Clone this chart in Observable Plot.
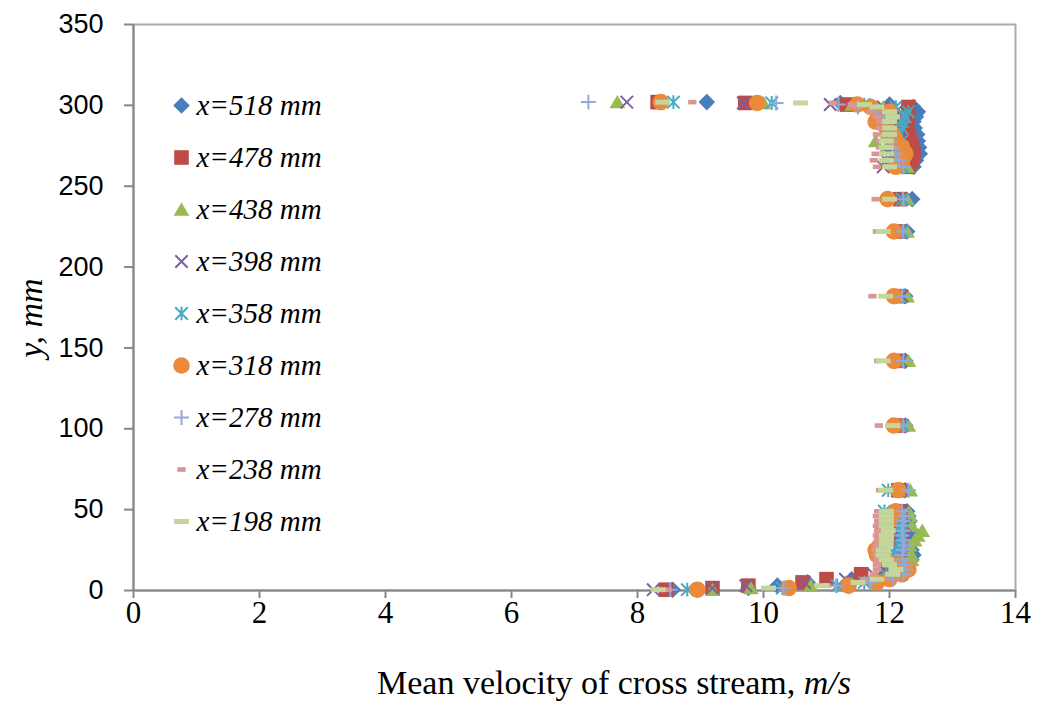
<!DOCTYPE html>
<html>
<head>
<meta charset="utf-8">
<script src="https://cdn.jsdelivr.net/npm/d3@7"></script>
<script src="https://cdn.jsdelivr.net/npm/@observablehq/plot@0.6"></script>
<style>
  html, body { margin: 0; padding: 0; background: #fff; }
  #wrap { position: relative; width: 1040px; height: 702px; }
  #wrap svg { position: absolute; left: 0; top: 0; }
</style>
</head>
<body>
<div id="wrap"></div>
<script>
// ---- data ----
const names = ["x=518 mm", "x=478 mm", "x=438 mm", "x=398 mm", "x=358 mm", "x=318 mm", "x=278 mm", "x=238 mm", "x=198 mm"];
const colors = ["#4a7ebb", "#be4b48", "#98b954", "#7d60a0", "#46aac5", "#ec8a3c", "#8faadc", "#d99694", "#c3d69b"];
const xTicks = [0, 2, 4, 6, 8, 10, 12, 14];
const yTicks = [0, 50, 100, 150, 200, 250, 300, 350];

// measurement heights y (mm), shared by all stations
const Y = [0.5, 1.5, 3, 5, 7, 10, 13, 16, 19, 22, 25, 28, 31, 34, 37, 40, 43, 46, 49, 62,
           102, 142, 182, 222, 242, 262, 266, 270, 274, 278, 282, 286, 290, 293, 296, 299, 300.5, 301.5, 302];

// mean velocity (m/s) at each height, per station
const V518 = [8.56, 9.76, 10.22, 10.7, 11.4, 11.95, 12.2, 12.3, 12.35, 12.38, 12.35, 12.3, 12.35, 12.3, 12.35, 12.3, 12.32, 12.3, 12.28, 12.25,
              12.25, 12.25, 12.25, 12.28, 12.36, 12.38, 12.42, 12.48, 12.47, 12.45, 12.44, 12.4, 12.38, 12.42, 12.45, 12.38, 12.0, 11.22, 9.1];
const V478 = [8.45, 9.19, 9.76, 10.62, 11.0, 11.55, 11.95, 12.1, 12.15, 12.2, 12.2, 12.18, 12.15, 12.2, 12.18, 12.2, 12.17, 12.2, 12.15, 12.14,
              12.15, 12.15, 12.15, 12.15, 12.17, 12.3, 12.35, 12.38, 12.36, 12.33, 12.3, 12.25, 12.28, 12.3, 12.3, 12.3, 11.33, 9.71, 8.32];
const V438 = [9.19, 9.8, 10.75, 11.3, 11.75, 12.05, 12.25, 12.3, 12.35, 12.35, 12.3, 12.32, 12.4, 12.45, 12.52, 12.35, 12.3, 12.32, 12.3, 12.33,
              12.3, 12.3, 12.28, 12.28, 12.28, 12.28, 12.2, 12.1, 11.95, 11.78, 11.95, 12.1, 12.15, 12.2, 12.1, 11.9, 11.41, 10.0, 7.68];
const V398 = [8.25, 9.19, 9.72, 10.65, 11.3, 11.75, 11.9, 12.05, 12.1, 12.15, 12.2, 12.2, 12.15, 12.2, 12.2, 12.25, 12.2, 12.22, 12.2, 12.2,
              12.2, 12.18, 12.2, 12.18, 12.2, 11.9, 11.95, 12.0, 12.05, 12.1, 12.15, 12.15, 12.2, 12.2, 12.1, 11.9, 11.06, 9.68, 7.83];
const V358 = [8.79, 10.3, 11.17, 11.6, 11.8, 11.95, 12.1, 12.15, 12.15, 12.1, 12.1, 12.15, 12.2, 12.2, 12.2, 12.15, 12.2, 12.15, 11.92, 11.98,
              12.2, 12.15, 12.15, 12.2, 12.2, 12.2, 12.2, 12.25, 12.2, 12.2, 12.15, 12.2, 12.2, 12.25, 12.3, 12.1, 11.6, 10.13, 8.57];
const V318 = [8.95, 10.4, 11.35, 11.8, 12.0, 12.2, 12.3, 12.15, 11.95, 11.8, 11.78, 11.85, 11.9, 11.95, 11.9, 11.9, 12.0, 12.05, 12.1, 12.14,
              12.07, 12.07, 12.07, 12.07, 11.97, 12.1, 12.2, 12.25, 12.2, 12.1, 12.05, 11.95, 11.78, 11.85, 12.0, 11.7, 11.49, 9.9, 8.37];
const V278 = [8.52, 10.32, 11.15, 11.7, 12.05, 12.22, 12.25, 12.25, 12.2, 12.2, 12.22, 12.25, 12.22, 12.2, 12.22, 12.2, 12.22, 12.25, 12.2, 12.3,
              12.22, 12.22, 12.2, 12.22, 12.22, 12.22, 12.15, 12.1, 12.05, 12.0, 12.0, 11.95, 11.95, 11.9, 11.8, 11.5, 11.19, 10.2, 7.22];
const V238 = [8.48, 10.1, 11.0, 11.5, 11.6, 11.75, 11.8, 11.8, 11.82, 11.8, 11.78, 11.8, 11.82, 11.8, 11.82, 11.8, 11.82, 11.8, 11.82, 11.85,
              11.83, 11.82, 11.73, 11.8, 11.78, 11.8, 11.75, 11.78, 11.85, 11.85, 11.8, 11.85, 11.86, 11.8, 11.7, 11.5, 11.4, 11.1, 8.87];
const V198 = [8.33, 10.08, 10.93, 11.5, 11.8, 12.05, 12.1, 12.0, 11.95, 11.9, 11.9, 11.95, 11.95, 11.95, 11.98, 11.95, 11.95, 11.95, 11.95, 11.94,
              12.05, 11.9, 11.94, 11.9, 12.0, 12.0, 11.95, 11.95, 11.95, 11.95, 12.0, 12.0, 12.0, 12.05, 12.0, 11.8, 11.6, 10.59, 8.4];

const series = [V518, V478, V438, V398, V358, V318, V278, V238, V198];

// ---- marker shapes (Excel-like) ----
const R = (size) => Math.sqrt(size / Math.PI);
const symDiamond = {draw(c, s) { const r = R(s); c.moveTo(0, -r); c.lineTo(r, 0); c.lineTo(0, r); c.lineTo(-r, 0); c.closePath(); }};
const symSquare = {draw(c, s) { const r = R(s) * 0.88; c.moveTo(-r, -r); c.lineTo(r, -r); c.lineTo(r, r); c.lineTo(-r, r); c.closePath(); }};
const symTriangle = {draw(c, s) { const r = R(s); c.moveTo(0, -r * 0.85); c.lineTo(r * 0.95, r * 0.75); c.lineTo(-r * 0.95, r * 0.75); c.closePath(); }};
const symCircle = {draw(c, s) { const r = R(s); c.moveTo(r, 0); c.arc(0, 0, r, 0, 2 * Math.PI); c.closePath(); }};
const symTimes = {draw(c, s) { const r = R(s) * 0.75; c.moveTo(-r, -r); c.lineTo(r, r); c.moveTo(r, -r); c.lineTo(-r, r); }};
const symAsterisk = {draw(c, s) { const r = R(s) * 0.75; c.moveTo(-r, -r); c.lineTo(r, r); c.moveTo(r, -r); c.lineTo(-r, r); c.moveTo(0, -r * 1.1); c.lineTo(0, r * 1.1); }};
const symPlus = {draw(c, s) { const r = R(s) * 0.9; c.moveTo(-r, 0); c.lineTo(r, 0); c.moveTo(0, -r); c.lineTo(0, r); }};
const symDashS = {draw(c, s) { const r = R(s); const w = r * 0.5, h = r * 0.28; c.moveTo(-w, -h); c.lineTo(w, -h); c.lineTo(w, h); c.lineTo(-w, h); c.closePath(); }};
const symDashL = {draw(c, s) { const r = R(s); const w = r * 0.9, h = r * 0.3; c.moveTo(-w, -h); c.lineTo(w, -h); c.lineTo(w, h); c.lineTo(-w, h); c.closePath(); }};

const shapes = [
  {symbol: symDiamond, filled: true},
  {symbol: symSquare, filled: true},
  {symbol: symTriangle, filled: true},
  {symbol: symTimes, filled: false},
  {symbol: symAsterisk, filled: false},
  {symbol: symCircle, filled: true},
  {symbol: symPlus, filled: false},
  {symbol: symDashS, filled: true},
  {symbol: symDashL, filled: true}
];

const rows = series.flatMap((vals, i) => Y.map((y, j) => ({name: names[i], y, v: vals[j]})));

function styleFor(i) {
  const s = shapes[i];
  return s.filled
    ? {symbol: s.symbol, fill: colors[i], stroke: "none"}
    : {symbol: s.symbol, fill: "none", stroke: colors[i], strokeWidth: 2};
}

const R0 = 8.3;
const dotMarks = names.map((n, i) =>
  Plot.dot(rows.filter(d => d.name === n), {x: "v", y: "y", r: R0, ...styleFor(i)})
);

const main = Plot.plot({
  width: 1040,
  height: 702,
  marginLeft: 133,
  marginRight: 25,
  marginTop: 24,
  marginBottom: 112,
  style: {background: "#fff", overflow: "visible"},
  x: {domain: [0, 14]},
  y: {domain: [0, 350]},
  marks: [
    Plot.frame({stroke: "#ababab", strokeWidth: 2}),
    Plot.axisX({ticks: xTicks, tickSize: 8, tickPadding: 2, stroke: "#868686", strokeWidth: 2, fill: "#000",
                fontSize: 31, fontFamily: "Liberation Serif", label: null}),
    Plot.axisY({ticks: yTicks, tickSize: 9, tickPadding: 21, stroke: "#868686", strokeWidth: 2, fill: "#000",
                fontSize: 27, fontFamily: "Liberation Sans", label: null}),
    Plot.ruleX([0], {stroke: "#868686", strokeWidth: 2}),
    Plot.ruleY([0], {stroke: "#868686", strokeWidth: 2}),
    ...dotMarks
  ]
});

// axis titles (mixed upright/italic text)
const svg = d3.select(main);
const xt = svg.append("text")
  .attr("x", 614).attr("y", 694)
  .attr("text-anchor", "middle")
  .attr("font-family", "Liberation Serif")
  .attr("font-size", 34)
  .attr("fill", "#000");
xt.append("tspan").text("Mean velocity of cross stream, ");
xt.append("tspan").attr("font-style", "italic").text("m/s");

svg.append("text")
  .attr("transform", "translate(42,318) rotate(-90)")
  .attr("text-anchor", "middle")
  .attr("font-family", "Liberation Serif")
  .attr("font-style", "italic")
  .attr("font-size", 34)
  .attr("fill", "#000")
  .text("y, mm");

// legend drawn with Plot (point scale over series names)
const legend = Plot.plot({
  width: 1040,
  height: 702,
  marginLeft: 181,
  marginRight: 0,
  marginTop: 0,
  marginBottom: 0,
  style: {background: "transparent", overflow: "visible", pointerEvents: "none"},
  y: {type: "point", domain: names, range: [102, 524], padding: 0, axis: null},
  marks: [
    ...names.map((n, i) => Plot.dot([n], {y: d => d, frameAnchor: "left", r: R0, ...styleFor(i)})),
    Plot.text(names, {y: d => d, text: d => d, frameAnchor: "left", dx: 15, textAnchor: "start",
                      fontFamily: "Liberation Serif", fontStyle: "italic", fontSize: 29, fill: "#000"})
  ]
});

const wrap = document.getElementById("wrap");
wrap.appendChild(main);
wrap.appendChild(legend);
</script>
</body>
</html>
